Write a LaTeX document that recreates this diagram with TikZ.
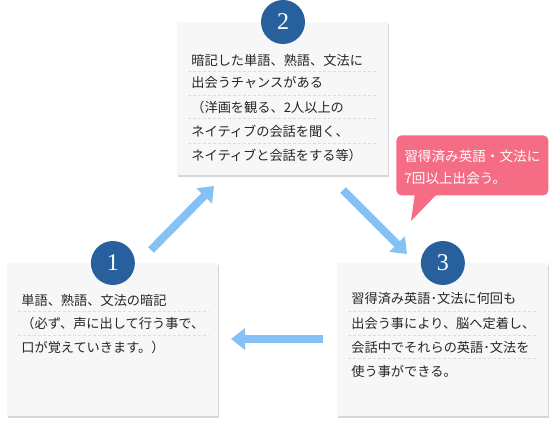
\documentclass[tikz,border=0pt]{standalone}
\usepackage{fontspec}
\usepackage{xcolor}
\usepackage{tikz}
\newfontfamily\jpfont{Noto Sans CJK JP}
\newfontfamily\numfont{Liberation Serif}
\usetikzlibrary{arrows.meta,shadows,positioning}
\definecolor{stepblue}{HTML}{28609E}
\definecolor{boxgray}{HTML}{F7F7F7}
\definecolor{flowblue}{HTML}{86C1F6}
\definecolor{notepink}{HTML}{F56C85}
\definecolor{rulegray}{HTML}{DDDDDD}
\tikzset{every picture/.style={line width=0.75pt},
  stepbox/.style={fill=boxgray, minimum width=211pt, minimum height=153pt, anchor=north west, inner sep=0pt,
    drop shadow={shadow xshift=0.8pt, shadow yshift=-1.2pt, opacity=0.35, fill=black!45}},
  numdot/.style={circle, fill=stepblue, minimum size=44pt, inner sep=0pt, text=white,
    font=\numfont\fontsize{24}{24}\selectfont},
  txt/.style={anchor=west, inner sep=0pt, text=black!85, font=\jpfont\fontsize{13.2}{15}\selectfont},
  notetxt/.style={anchor=west, inner sep=0pt, text=white, font=\jpfont\fontsize{13.6}{15}\selectfont},
  sep/.style={rulegray, dash pattern=on 3pt off 2pt, line width=0.7pt},
  flow/.style={flowblue, line width=8pt, -{Triangle[width=21pt,length=14pt]}}}

\begin{document}
\begin{tikzpicture}[x=1pt,y=1pt,yscale=-1,xscale=1]
    \useasboundingbox (0,0) rectangle (559,441);
    % boxes
    \node (box1) [stepbox] at (7,263) {};
    \node (box2) [stepbox] at (177,22) {};
    \node (box3) [stepbox] at (337,263) {};
    % separators
    \draw [sep] (188,71) -- (379,71) ;
    \draw [sep] (188,95) -- (379,95) ;
    \draw [sep] (188,118) -- (379,118) ;
    \draw [sep] (188,143) -- (379,143) ;
    \draw [sep] (18,311) -- (209,311) ;
    \draw [sep] (18,335) -- (209,335) ;
    \draw [sep] (348,311) -- (539,311) ;
    \draw [sep] (348,335) -- (539,335) ;
    \draw [sep] (348,358) -- (539,358) ;
    % numbers
    \node (num1) [numdot] at (box1.north) {1};
    \node (num2) [numdot] at (283,22) {2};
    \node (num3) [numdot] at (box3.north) {3};
    % texts
    \node (t21) [txt] at (191,60) {暗記した単語、熟語、文法に};
    \node (t22) [txt] at (191,83) {出会うチャンスがある};
    \node (t23) [txt] at (191,107) {（洋画を観る、2人以上の};
    \node (t24) [txt] at (191,131) {ネイティブの会話を聞く、};
    \node (t25) [txt] at (191,155) {ネイティブと会話をする等）};
    \node (t11) [txt] at (21,300) {単語、熟語、文法の暗記};
    \node (t12) [txt] at (21,323) {（必ず、声に出して行う事で、};
    \node (t13) [txt] at (21,347) {口が覚えていきます。）};
    \node (t31) [txt] at (351,299) {習得済み英語･文法に何回も};
    \node (t32) [txt] at (351,323) {出会う事により、脳へ定着し、};
    \node (t33) [txt] at (351,347) {会話中でそれらの英語･文法を};
    \node (t34) [txt] at (351,371) {使う事ができる。};
    % callout
    \node (note) [fill=notepink, rounded corners=5pt, minimum width=152pt, minimum height=60pt, anchor=north west, inner sep=0pt] at (396,135) {};
    \coordinate (tip) at (411,221);
    \fill [notepink] (415,193) -- (tip) -- (438,193) -- cycle ;
    \node (n1) [notetxt] at (404,156) {習得済み英語・文法に};
    \node (n2) [notetxt] at (404,178) {7回以上出会う。};
    % arrows
    \coordinate (a1s) at (151,250);
    \coordinate (a1e) at (214,186);
    \coordinate (a2s) at (343,190);
    \coordinate (a2e) at (407,254);
    \coordinate (a3s) at (323,339);
    \coordinate (a3e) at (231,339);
    \draw [flow] (a1s) -- (a1e) ;
    \draw [flow] (a2s) -- (a2e) ;
    \draw [flow] (a3s) -- (a3e) ;
\end{tikzpicture}
\end{document}
